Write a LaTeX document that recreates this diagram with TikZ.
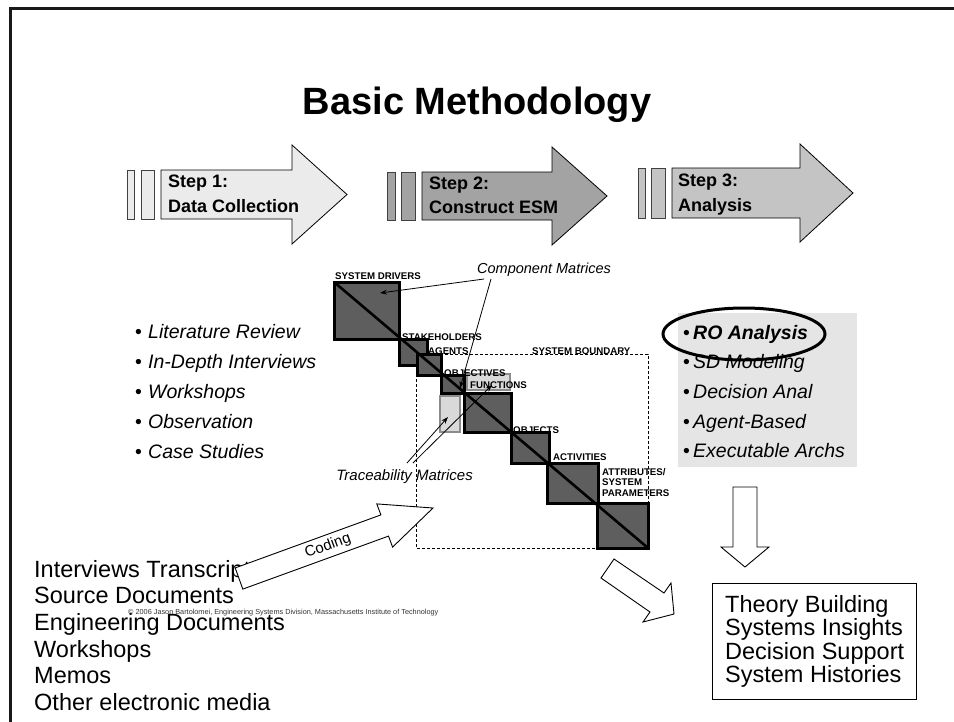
\documentclass[tikz,border=0pt]{standalone}
\usepackage{fontspec}
\setmainfont{Liberation Sans}
\usetikzlibrary{arrows.meta,calc}
\definecolor{stepA}{gray}{0.92}
\definecolor{stepB}{gray}{0.64}
\definecolor{stepC}{gray}{0.77}
\definecolor{matdark}{gray}{0.37}
\definecolor{tracefill}{gray}{0.85}
\definecolor{panel}{gray}{0.90}
\begin{document}
\begin{tikzpicture}[x=1pt,y=-1pt,
  stepbar/.style={draw=black!75,line width=0.8pt},
  steparrow/.style={draw=black,line width=0.8pt,line join=miter},
  steptext/.style={anchor=base west,inner sep=0pt,font=\fontsize{18}{20}\selectfont\bfseries},
  block/.style={draw=black,line width=3pt,fill=matdark},
  tbox/.style={draw=black!45,line width=1.2pt,fill=tracefill},
  caplabel/.style={anchor=base west,inner sep=0pt,font=\fontsize{9.7}{10.5}\selectfont\bfseries},
  note/.style={inner sep=0pt,font=\fontsize{14.5}{16}\selectfont\itshape},
  pointer/.style={draw=black,line width=0.8pt,-{Stealth[length=7pt,width=5pt]}},
  item/.style={anchor=base west,inner sep=0pt,font=\fontsize{19.5}{22}\selectfont\itshape},
  bullet/.style={anchor=base west,inner sep=0pt,font=\fontsize{19.5}{22}\selectfont},
  plain/.style={anchor=base west,inner sep=0pt,font=\fontsize{23.5}{26}\selectfont},
  hollow/.style={draw=black,line width=0.9pt,fill=white,line join=miter},
]
\fill[white] (0,0) rectangle (954,721);
\useasboundingbox (0,0) rectangle (954,721);

% slide frame
\draw[line width=3pt,black!90] (10.3,730) -- (10.3,8.5) -- (960,8.5);

% title
\node[anchor=base,inner sep=0pt,font=\fontsize{38}{40}\selectfont\bfseries] (title) at (477,114) {Basic Methodology};

% step 1
\draw[stepbar,fill=stepA] (127,170) rectangle (134,219);
\draw[stepbar,fill=stepA] (141,170) rectangle (154,219);
\draw[steparrow,fill=stepA] (161,170) -- (292,170) -- (292,145) -- (347,194.5) -- (292,244) -- (292,219) -- (161,219) -- cycle;
\node[steptext] (s1a) at (168,187.5) {Step 1:};
\node[steptext] (s1b) at (168,212) {Data Collection};

% step 2
\draw[stepbar,fill=stepB] (387,172) rectangle (395,220);
\draw[stepbar,fill=stepB] (401,172) rectangle (415,220);
\draw[steparrow,fill=stepB] (422,172) -- (552,172) -- (552,147) -- (607,196) -- (552,245) -- (552,220) -- (422,220) -- cycle;
\node[steptext] (s2a) at (429,189.5) {Step 2:};
\node[steptext] (s2b) at (429,213.5) {Construct ESM};

% step 3
\draw[stepbar,fill=stepC] (638,168) rectangle (645,218);
\draw[stepbar,fill=stepC] (651,168) rectangle (665,218);
\draw[steparrow,fill=stepC] (672,168) -- (800,168) -- (800,144) -- (853,193) -- (800,242) -- (800,218) -- (672,218) -- cycle;
\node[steptext] (s3a) at (678,186.5) {Step 3:};
\node[steptext] (s3b) at (678,211) {Analysis};

% system boundary
\draw[dashed,line width=0.7pt,dash pattern=on 3pt off 2pt] (416,354) rectangle (648,548);

% traceability matrices (light)
\draw[tbox] (440,396) rectangle (460,432);
\draw[tbox] (467,374) rectangle (510,390);

% component matrices along the diagonal
\draw[block] (334,282) rectangle (399,339);
\draw[block] (399,339) rectangle (427,365);
\draw[block] (417,354) rectangle (441,375);
\draw[block] (441,375) rectangle (464,393);
\draw[block] (464,393) rectangle (511,432);
\draw[block] (511,432) rectangle (549,463);
\draw[block] (547,463) rectangle (598,503);
\draw[block] (597,503) rectangle (648,548);
\coordinate (diagA) at (334,282);
\coordinate (diagB) at (648,548);
\draw[line width=2.6pt] (diagA) -- (diagB);

% block labels
\node[caplabel] (lsd) at (335,279) {SYSTEM DRIVERS};
\node[caplabel] (lst) at (402,340) {STAKEHOLDERS};
\node[caplabel] (lag) at (428,354) {AGENTS};
\node[caplabel] (lob) at (444,376) {OBJECTIVES};
\node[caplabel] (lfn) at (470,388) {FUNCTIONS};
\node[caplabel] (lobj) at (513,433) {OBJECTS};
\node[caplabel] (lact) at (553,460) {ACTIVITIES};
\node[caplabel,align=left,anchor=north west] (lattr) at (602,468) {ATTRIBUTES/\\SYSTEM\\PARAMETERS};
\node[caplabel] (lsb) at (532,354) {SYSTEM BOUNDARY};

% annotations
\node[note,anchor=base west] (compm) at (477,273) {Component Matrices};
\coordinate (cmA) at (484,279);
\coordinate (cmB) at (491,279);
\coordinate (cmSD) at (380,293);
\coordinate (cmOB) at (460,388);
\draw[pointer] (cmA) -- (cmSD);
\draw[pointer] (cmB) -- (cmOB);

\node[note,anchor=base east,font=\fontsize{15}{16}\selectfont\itshape] (tracem) at (473,480) {Traceability Matrices};
\coordinate (tmA) at (407,463);
\coordinate (tmB) at (413,463);
\coordinate (tmL) at (448,417);
\coordinate (tmU) at (492,385);
\draw[pointer] (tmA) -- (tmL);
\draw[pointer] (tmB) -- (tmU);

% data collection methods
\foreach \t/\y [count=\i] in {Literature Review/338,In-Depth Interviews/368,Workshops/398,Observation/428,Case Studies/458}{
  \node[bullet] (lb\i) at (135,\y) {•};
  \node[item] (lt\i) at (148,\y) {\t};
}

% analysis methods panel
\fill[panel] (678,313) rectangle (857,467);
\node[bullet] (rb1) at (683,339) {•};
\node[item,font=\fontsize{19.5}{22}\selectfont\bfseries\itshape] (rt1) at (693,339) {RO Analysis};
\foreach \t/\y [count=\i from 2] in {SD Modeling/368,Decision Anal/398,Agent-Based/428,Executable Archs/457}{
  \node[bullet] (rb\i) at (683,\y) {•};
  \node[item] (rt\i) at (693,\y) {\t};
}
\draw[line width=3pt] (744,334) ellipse [x radius=81, y radius=26];

% source material
\foreach \t/\y [count=\i] in {Interviews Transcripts/577,Source Documents/603,Engineering Documents/630,Workshops/657,Memos/683,Other electronic media/710}{
  \node[plain] (src\i) at (34,\y) {\t};
}
\node[anchor=base west,inner sep=0pt,font=\fontsize{7.3}{8}\selectfont,text=black!80] (copy) at (128,614)
  {© 2006 Jason Bartolomei, Engineering Systems Division, Massachusetts Institute of Technology};

% coding arrow
\draw[hollow] (242.8,589.1) -- (388.5,536.1) -- (392.6,547.1) -- (433,508) -- (376.8,503.9) -- (380.9,514.9) -- (235.2,567.9) -- cycle;
\node[inner sep=0pt,rotate=20,font=\fontsize{15}{16}\selectfont] (coding) at (328,546) {Coding};

% arrow from the ESM to the outcomes
\draw[hollow] (614,559) -- (664,593) -- (671,583) -- (674,614) -- (643,622) -- (650,612) -- (601,578) -- cycle;

% arrow from analysis down to the outcomes
\draw[hollow] (733,487) -- (757,487) -- (757,547) -- (769,547) -- (745,567) -- (721,547) -- (733,547) -- cycle;

% outcomes
\draw[line width=0.9pt] (712,583) rectangle (916,699);
\foreach \t/\y [count=\i] in {Theory Building/612,Systems Insights/635,Decision Support/659,System Histories/682}{
  \node[plain] (out\i) at (725,\y) {\t};
}
\end{tikzpicture}
\end{document}
